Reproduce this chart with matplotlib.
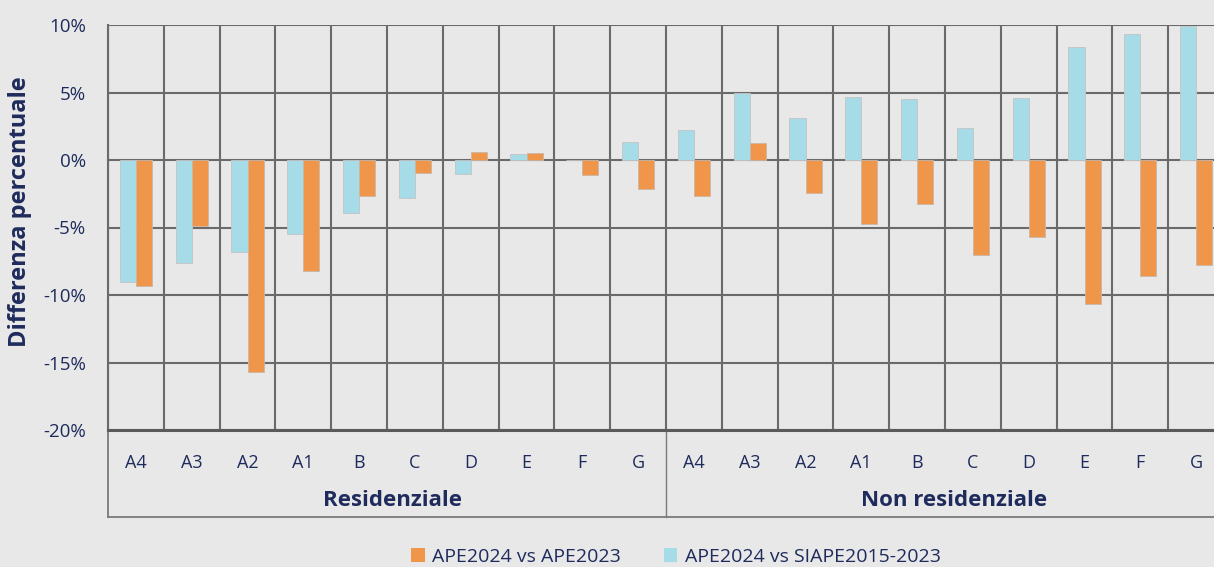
import matplotlib
matplotlib.use("Agg")
import matplotlib.pyplot as plt
import numpy as np
from matplotlib.patches import Patch
from matplotlib.ticker import FuncFormatter, MultipleLocator

classes = ["A4", "A3", "A2", "A1", "B", "C", "D", "E", "F", "G"]
groups = ["Residenziale", "Non residenziale"]
# APE2024 vs APE2023 (%)
ape2023_res = [-9.3, -4.9, -15.7, -8.25, -2.65, -0.93, 0.6, 0.54, -1.08, -2.16]
ape2023_nonres = [-2.67, 1.26, -2.47, -4.75, -3.27, -7.03, -5.67, -10.64, -8.61, -7.8]
# APE2024 vs SIAPE2015-2023 (%)
siape_res = [-9.04, -7.6, -6.8, -5.5, -3.95, -2.8, -1.0, 0.47, 0.0, 1.35]
siape_nonres = [2.25, 4.97, 3.14, 4.7, 4.5, 2.35, 4.6, 8.37, 9.31, 9.95]
labels_series = ["APE2024 vs APE2023", "APE2024 vs SIAPE2015-2023"]

ORANGE = "#F0964A"
CYAN = "#A6DCE8"
BG = "#E8E8E8"
NAVY = "#1E2B5C"
GRID = "#6A6A6A"

plt.rcParams['font.family'] = ['Open Sans', 'DejaVu Sans']

fig = plt.figure(figsize=(12.14, 5.67), dpi=100, facecolor=BG)
ax = fig.add_axes([108/1214, 137/567, 1116/1214, 405/567])
ax.set_facecolor(BG)

cats = classes + classes
orange_vals = ape2023_res + ape2023_nonres
cyan_vals = siape_res + siape_nonres
x = np.arange(len(cats))
w = 0.29
ax.bar(x - w/2, cyan_vals, w, color=CYAN, edgecolor="#c4c4c4", linewidth=0.6, zorder=3)
ax.bar(x + w/2, orange_vals, w, color=ORANGE, edgecolor="#c9b8a8", linewidth=0.6, zorder=3)

ax.set_xlim(-0.5, len(cats) - 0.5)
ax.set_ylim(-20, 10)
ax.yaxis.set_major_locator(MultipleLocator(5))
ax.yaxis.set_major_formatter(FuncFormatter(lambda v, p: f"{int(round(v))}%"))
ax.set_xticks(x)
ax.set_xticklabels(cats)
ax.set_xticks(np.arange(-0.5, len(cats)), minor=True)
ax.set_axisbelow(True)
ax.grid(True, which="major", axis="y", color=GRID, linewidth=1.5, zorder=0)
ax.grid(True, which="minor", axis="x", color=GRID, linewidth=1.5, zorder=0)
ax.tick_params(axis="both", which="both", length=0)
ax.tick_params(axis="y", labelsize=13.5, labelcolor=NAVY, pad=16)
ax.tick_params(axis="x", labelsize=13, labelcolor=NAVY, pad=17)
for s in ["top", "right"]:
    ax.spines[s].set_visible(False)
ax.spines["left"].set_color(GRID)
ax.spines["left"].set_linewidth(1.5)
ax.spines["bottom"].set_color("#5a5a5a")
ax.spines["bottom"].set_linewidth(2.2)

ax.set_ylabel("Differenza percentuale", fontsize=17, fontweight="bold", color=NAVY)
ax.yaxis.set_label_coords(-0.068, 0.538)

# lower category box
yb = -87/405
ax.plot([-0.5, -0.5], [0, yb], transform=ax.get_xaxis_transform(), color="#7a7a7a", lw=1.3, clip_on=False)
ax.plot([9.5, 9.5], [0, yb], transform=ax.get_xaxis_transform(), color="#7a7a7a", lw=1.0, clip_on=False)
ax.plot([-0.5, 19.5], [yb, yb], transform=ax.get_xaxis_transform(), color="#7a7a7a", lw=1.3, clip_on=False)
for i, g in enumerate(groups):
    ax.text(4.6 + 10*i + 0.07*i, -70/405, g, transform=ax.get_xaxis_transform(), ha="center", va="center",
            fontsize=16, fontweight="bold", color=NAVY)

handles = [Patch(facecolor=ORANGE, edgecolor="none"), Patch(facecolor=CYAN, edgecolor="none")]
fig.legend(handles, labels_series, loc="center", bbox_to_anchor=(676/1214, 10/567), ncol=2,
           frameon=False, fontsize=14, labelcolor=NAVY, handlelength=0.7, handleheight=0.7,
           handletextpad=0.4, columnspacing=2.2)

fig.savefig("out.png", dpi=100, facecolor=BG)
